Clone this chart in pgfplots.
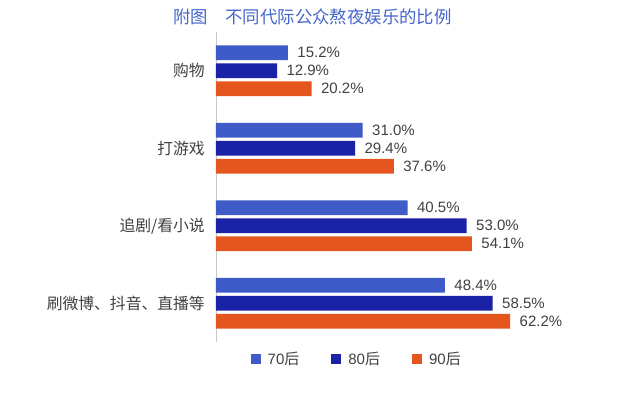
\documentclass[border=0pt]{standalone}
\usepackage{fontspec}
\setmainfont{Liberation Sans}
\newfontfamily\cjk{Noto Sans CJK SC}
\usepackage{pgfplots}
\pgfplotsset{compat=1.18}
\definecolor{c70}{HTML}{3F5BC8}
\definecolor{c80}{HTML}{1A22A6}
\definecolor{c90}{HTML}{E4561E}
\definecolor{txt}{HTML}{404040}
\definecolor{ttl}{HTML}{4466CC}
\definecolor{axl}{HTML}{C8C8C8}
\begin{document}
\begin{tikzpicture}
\useasboundingbox (0,0) rectangle (641pt,394pt);
\node[font=\cjk\fontsize{17.4}{20}\selectfont, text=ttl, inner sep=0pt] at (312.5pt,377pt) {附图　不同代际公众熬夜娱乐的比例};
\begin{axis}[
  at={(216pt,52pt)}, anchor=south west,
  scale only axis, width=378.4pt, height=310pt,
  xmin=0, xmax=80, ymin=-0.5, ymax=3.5,
  y dir=reverse,
  xbar, bar width=0.19,
  axis x line=none,
  axis y line=left,
  axis line style={-, draw=axl, line width=0.8pt},
  ytick={0,1,2,3},
  yticklabels={购物,打游戏,追剧/看小说,刷微博、抖音、直播等},
  major tick length=0pt,
  yticklabel style={font=\cjk\fontsize{15.8}{18}\selectfont, text=txt, inner sep=0pt, xshift=-11pt},
  nodes near coords={\pgfmathprintnumber[fixed,fixed zerofill,precision=1]{\pgfplotspointmeta}\%},
  /pgf/number format/assume math mode=true,
  every node near coord/.append style={font=\fontsize{15}{18}\selectfont, text=txt, xshift=6pt},
  legend columns=3,
  legend style={at={(0.0917,-0.0539)}, anchor=west, draw=none, fill=none, inner sep=0pt, outer sep=0pt,
    font=\fontsize{15}{18}\selectfont, text=txt,
    /tikz/every odd column/.append style={column sep=5pt},
    /tikz/every even column/.append style={column sep=30pt}},
  mylegend/.style={legend image code/.code={\fill[##1] (0pt,-5pt) rectangle (10pt,5pt);}},
]
\addplot[fill=c70, draw=none, bar shift=-0.232, mylegend] coordinates {(15.2,0) (31.0,1) (40.5,2) (48.4,3)};
\addplot[fill=c80, draw=none, bar shift=0, mylegend] coordinates {(12.9,0) (29.4,1) (53.0,2) (58.5,3)};
\addplot[fill=c90, draw=none, bar shift=0.232, mylegend] coordinates {(20.2,0) (37.6,1) (54.1,2) (62.2,3)};
\legend{70{\cjk 后},80{\cjk 后},90{\cjk 后}}
\end{axis}
\end{tikzpicture}
\end{document}
